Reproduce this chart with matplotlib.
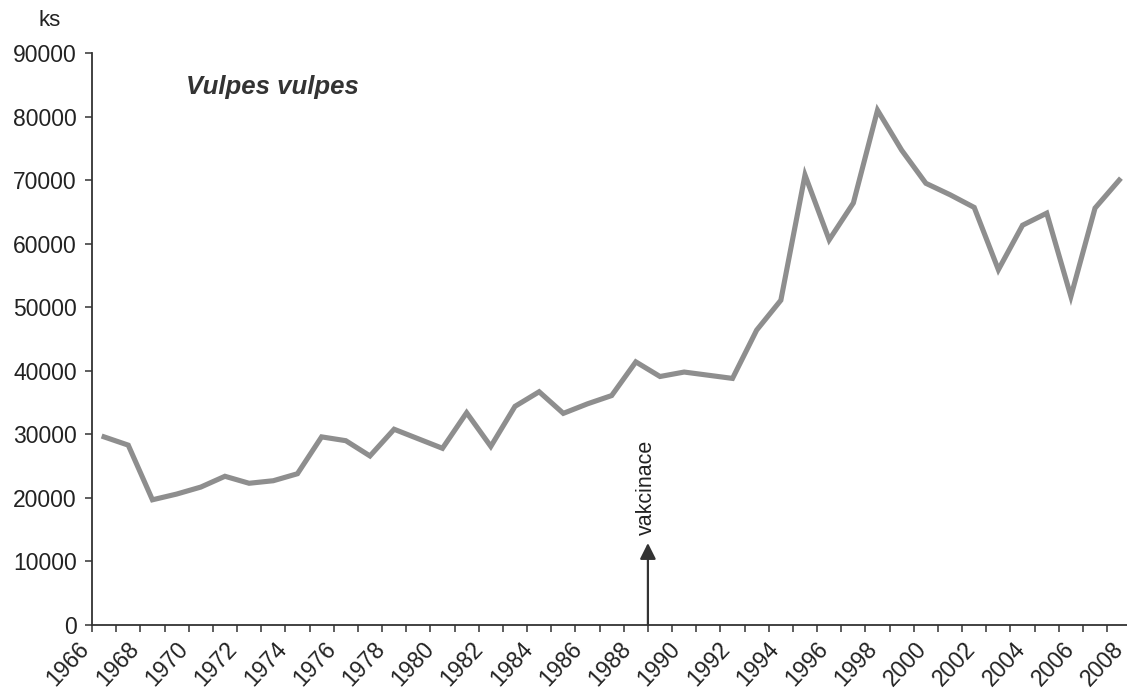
import matplotlib
matplotlib.use("Agg")
import matplotlib.pyplot as plt
from matplotlib.ticker import FixedLocator
import matplotlib.transforms as mtransforms

years = list(range(1966, 2009))
values = [29600, 28300, 19700, 20600, 21700, 23400, 22300, 22700, 23800, 29600,
          29000, 26600, 30800, 29300, 27800, 33400, 28100, 34400, 36700, 33300,
          34800, 36100, 41400, 39100, 39800, 39300, 38800, 46400, 51100, 70800,
          60600, 66400, 81000, 74700, 69500, 67700, 65700, 55900, 62900, 64800,
          51700, 65600, 70000]
tick_labels = [str(y) for y in years[::2]]
yticks = [0, 10000, 20000, 30000, 40000, 50000, 60000, 70000, 80000, 90000]
vacc_year = 1988.5

plt.rcParams['font.family'] = ['Liberation Sans', 'DejaVu Sans']

W, H = 1127, 694
fig = plt.figure(figsize=(W / 100, H / 100), dpi=100)
left, right, bottom, top = 92, 1127, 625, 53
ax = fig.add_axes([left / W, 1 - bottom / H, (right - left) / W, (bottom - top) / H])

x = [y - years[0] for y in years]
ax.plot(x, values, color='#8e8e8e', lw=3.7, solid_joinstyle='miter', zorder=3)

step = 24.17
ax.set_xlim(-0.5, -0.5 + (right - left) / step)
ax.set_ylim(0, 90000)

ax.xaxis.set_major_locator(FixedLocator(x[::2]))
ax.set_xticklabels(tick_labels)
ax.xaxis.set_minor_locator(FixedLocator([i - 0.5 for i in range(len(years) + 1)]))
ax.tick_params(axis='x', which='major', length=0, pad=9, labelsize=16.5)
ax.tick_params(axis='x', which='minor', length=5, width=1.1, color='#333333', direction='out')
labs = ax.get_xticklabels()
n = len(labs)
for i, lab in enumerate(labs):
    lab.set_rotation(47)
    lab.set_rotation_mode('default')
    lab.set_ha('right')
    lab.set_va('top')
    dx = -10 + 19 * i / (n - 1)
    lab.set_transform(lab.get_transform() + mtransforms.ScaledTranslation(dx / 100, 0, fig.dpi_scale_trans))

ax.set_yticks(yticks)
ax.set_yticklabels([str(v) for v in yticks])
ax.tick_params(axis='y', length=5, width=1.1, color='#333333', direction='out', pad=6, labelsize=16.5, labelcolor='#222222')
ax.tick_params(axis='x', labelcolor='#222222')

for s in ['top', 'right']:
    ax.spines[s].set_visible(False)
for s in ['left', 'bottom']:
    ax.spines[s].set_color('#333333')
    ax.spines[s].set_linewidth(1.3)

vx = vacc_year - years[0]
ax.annotate('', xy=(vx, 12900), xytext=(vx, 0),
            arrowprops=dict(arrowstyle='-|>', color='#333333', lw=1.6,
                            mutation_scale=24, shrinkA=0, shrinkB=0), zorder=4)
ax.text(vx - 0.08, 14200, 'vakcinace', rotation=90, ha='center', va='bottom',
        fontsize=15.5, color='#222222')

ax.text(3.4, 84700, 'Vulpes vulpes', fontsize=18.5, fontweight='bold', fontstyle='italic',
        ha='left', va='center', color='#333333')

fig.text(50 / W, 1 - 20 / H, 'ks', fontsize=16, ha='center', va='center', color='#222222')

fig.savefig('out.png', dpi=100)
